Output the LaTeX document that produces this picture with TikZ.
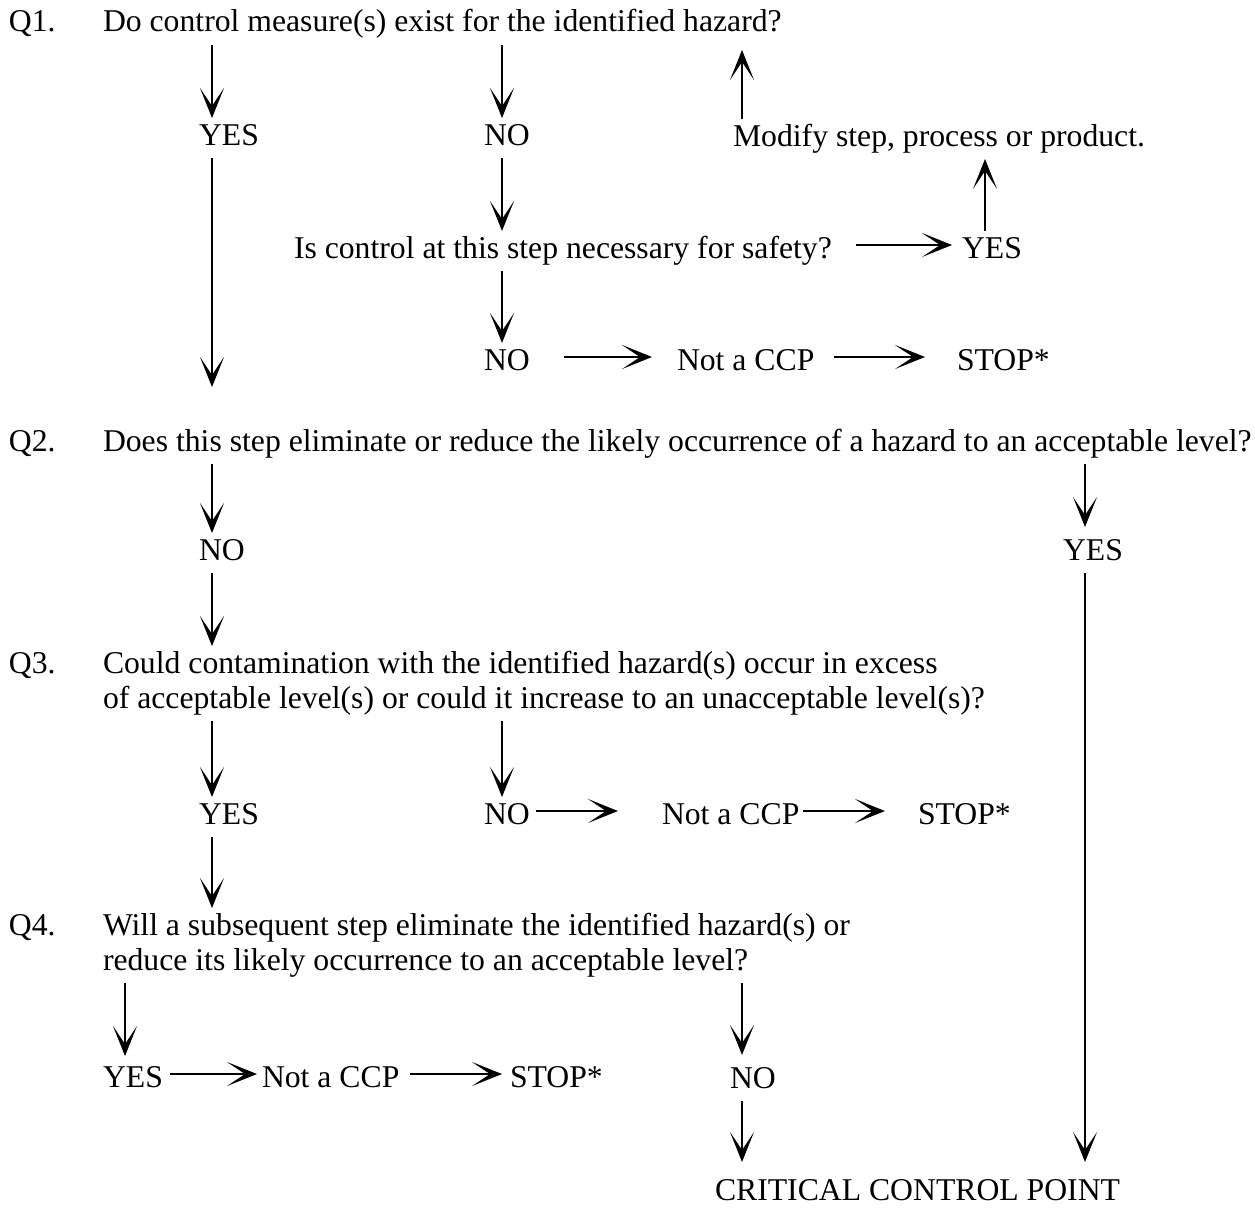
\documentclass[tikz,border=0pt]{standalone}
\usepackage{fontspec}
\setmainfont{Liberation Serif}
\usetikzlibrary{arrows.meta}
\usetikzlibrary{positioning}

\tikzset{
  txt/.style={font=\fontsize{31.7}{35}\selectfont, inner sep=0pt, outer xsep=0pt, outer ysep=6pt,
    text height=21pt, text depth=7pt, anchor=base west},
  arr/.style={line width=2pt, line join=miter, arrows={-Stealth[length=30pt,width=24pt,inset=18pt]}}
}

\begin{document}
\begin{tikzpicture}[x=1pt,y=-1pt]
	\useasboundingbox (0,0) rectangle (1255,1207);
	% columns of the vertical arrows
	\coordinate (cl) at (212,0);
	\coordinate (cs) at (125,0);
	\coordinate (cn) at (502,0);
	\coordinate (cm) at (742,0);
	\coordinate (cy) at (985,0);
	\coordinate (cr) at (1085,0);

	% Q1
	\node[txt] (q1lab) at (9,32) {Q1.};
	\node[txt] (q1) at (103,32) {Do control measure(s) exist for the identified hazard?};
	\node[txt] (yes1) at (199,145) {YES};
	\node[txt] (no1) at (484,145) {NO};
	\node[txt] (modify) at (733,146) {Modify step, process or product.};
	\node[txt] (isctrl) at (294,258) {Is control at this step necessary for safety?};
	\node[txt] (yes2) at (962,258) {YES};
	\node[txt] (no2) at (484,370) {NO};
	\node[txt] (ncp1) at (677,370) {Not a CCP};
	\node[txt] (stop1) at (957,370) {STOP*};

	% Q2
	\node[txt] (q2lab) at (9,451) {Q2.};
	\node[txt] (q2) at (103,451) {Does this step eliminate or reduce the likely occurrence of a hazard to an acceptable level?};
	\node[txt] (no3) at (199,560) {NO};
	\node[txt] (yes3) at (1063,560) {YES};

	% Q3
	\node[txt] (q3lab) at (9,673) {Q3.};
	\node[txt] (q3a) at (103,673) {Could contamination with the identified hazard(s) occur in excess};
	\node[txt] (q3b) at ([yshift=-35pt]q3a.base west) {of acceptable level(s) or could it increase to an unacceptable level(s)?};
	\node[txt] (yes4) at (199,824) {YES};
	\node[txt] (no4) at (484,824) {NO};
	\node[txt] (ncp2) at (662,824) {Not a CCP};
	\node[txt] (stop2) at (918,824) {STOP*};

	% Q4
	\node[txt] (q4lab) at (9,935) {Q4.};
	\node[txt] (q4a) at (103,935) {Will a subsequent step eliminate the identified hazard(s) or};
	\node[txt] (q4b) at ([yshift=-35pt]q4a.base west) {reduce its likely occurrence to an acceptable level?};
	\node[txt] (yes5) at (103,1087) {YES};
	\node[txt] (ncp3) at (262,1087) {Not a CCP};
	\node[txt] (stop3) at (510,1087) {STOP*};
	\node[txt] (no5) at (730,1088) {NO};
	\node[txt] (ccp) at (715,1200) {CRITICAL CONTROL POINT};

	% connectors
	\draw[arr] (q1.south -| cl) -- (yes1.north -| cl);
	\draw[arr] (q1.south -| cn) -- (no1.north -| cn);
	\draw[arr, shorten >=5pt] (modify.north -| cm) -- (q1.south -| cm);
	\draw[arr] (yes2.north -| cy) -- (modify.south -| cy);
	\draw[arr] (no1.south -| cn) -- (isctrl.north -| cn);
	\draw[arr, shorten <=24pt, shorten >=10pt] ([yshift=13pt]isctrl.base east) -- ([yshift=13pt]yes2.base west);
	\draw[arr] (isctrl.south -| cn) -- (no2.north -| cn);
	\draw[arr, shorten <=34pt, shorten >=25pt] ([yshift=13pt]no2.base east) -- ([yshift=13pt]ncp1.base west);
	\draw[arr, shorten <=20pt, shorten >=32pt] ([yshift=13pt]ncp1.base east) -- ([yshift=13pt]stop1.base west);
	\draw[arr, shorten >=37pt] (yes1.south -| cl) -- (q2.north -| cl);

	\draw[arr] (q2.south -| cl) -- (no3.north -| cl);
	\draw[arr, shorten >=6pt] (q2.south -| cr) -- (yes3.north -| cr);
	\draw[arr, shorten >=11pt] (yes3.south -| cr) -- (ccp.north -| cr);
	\draw[arr] (no3.south -| cl) -- (q3a.north -| cl);

	\draw[arr] (q3b.south -| cl) -- (yes4.north -| cl);
	\draw[arr] (q3b.south -| cn) -- (no4.north -| cn);
	\draw[arr, shorten <=6pt, shorten >=44pt] ([yshift=13pt]no4.base east) -- ([yshift=13pt]ncp2.base west);
	\draw[arr, shorten <=4pt, shorten >=33pt] ([yshift=13pt]ncp2.base east) -- ([yshift=13pt]stop2.base west);
	\draw[arr] (yes4.south -| cl) -- (q4a.north -| cl);

	\draw[arr, shorten >=4pt] (q4b.south -| cs) -- (yes5.north -| cs);
	\draw[arr, shorten <=7pt, shorten >=5pt] ([yshift=13pt]yes5.base east) -- ([yshift=13pt]ncp3.base west);
	\draw[arr, shorten <=11pt, shorten >=8pt] ([yshift=13pt]ncp3.base east) -- ([yshift=13pt]stop3.base west);
	\draw[arr, shorten >=6pt] (q4b.south -| cm) -- (no5.north -| cm);
	\draw[arr, shorten >=11pt] (no5.south -| cm) -- (ccp.north -| cm);
\end{tikzpicture}
\end{document}
